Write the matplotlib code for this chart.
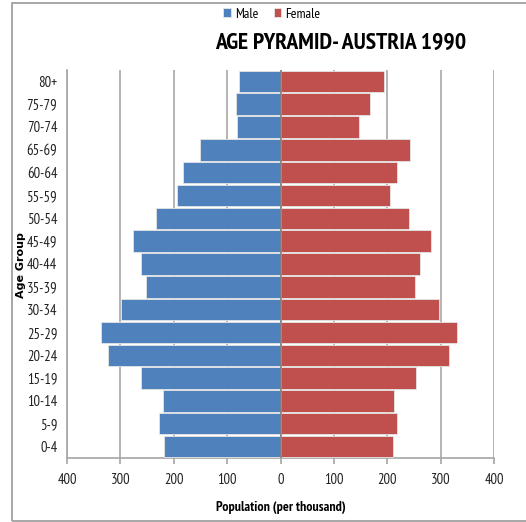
import matplotlib.pyplot as plt
from matplotlib.patches import Rectangle
from matplotlib.ticker import FuncFormatter

# Age groups, bottom to top
age_groups = ["0-4", "5-9", "10-14", "15-19", "20-24", "25-29", "30-34", "35-39",
              "40-44", "45-49", "50-54", "55-59", "60-64", "65-69", "70-74", "75-79", "80+"]

# Population in thousands
male = [219, 228, 220, 261, 324, 336, 298, 252, 261, 276, 233, 194, 183, 150, 81, 84, 78]
female = [211, 219, 212, 253, 315, 330, 297, 252, 261, 281, 241, 205, 219, 243, 146, 167, 194]

x_ticks = [-400, -300, -200, -100, 0, 100, 200, 300, 400]

BLUE = "#4F81BD"
RED = "#C0504D"
GRID = "#b4b4b4"

plt.rcParams["font.family"] = ["PT Sans Narrow", "DejaVu Sans"]

fig = plt.figure(figsize=(5.26, 5.22), dpi=100)
ax = fig.add_axes([0.1274, 0.1226, 0.812, 0.7435])

pos = list(range(len(age_groups)))
ax.barh(pos, [-v for v in male], height=0.94, color=BLUE, edgecolor="#e6e6e6",
        linewidth=0.6, label="Male", zorder=3)
ax.barh(pos, female, height=0.94, color=RED, edgecolor="#e6e6e6",
        linewidth=0.6, label="Female", zorder=3)

ax.set_xlim(-400, 400)
ax.set_ylim(-0.5, len(age_groups) - 0.5)
ax.set_xticks(x_ticks)
ax.xaxis.set_major_formatter(FuncFormatter(lambda v, p: f"{abs(int(v))}"))
ax.set_yticks(pos)
ax.set_yticklabels(age_groups)

ax.xaxis.grid(True, color=GRID, linewidth=1.4, zorder=0)
ax.axvline(0, color="#808080", linewidth=1.2, zorder=4)

for side in ["top", "right"]:
    ax.spines[side].set_visible(False)
for side in ["left", "bottom"]:
    ax.spines[side].set_color("#a6a6a6")
    ax.spines[side].set_linewidth(1.2)

ax.tick_params(axis="x", direction="out", length=4, width=1.2, color="#a6a6a6",
               labelsize=10.5, pad=7, labelcolor="#222222")
ax.tick_params(axis="y", length=0, labelsize=10.5, pad=7, labelcolor="#222222")

ax.set_xlabel("Population (per thousand)", fontsize=10, fontweight="bold", labelpad=10)
fig.text(0.04, 0.492, "Age Group", rotation=90, ha="center", va="center",
         fontsize=8, fontweight="bold", family=["DejaVu Sans"])

fig.text(0.647, 0.917, "AGE PYRAMID- AUSTRIA 1990", ha="center", va="center",
         fontsize=17, fontweight="bold", color="black")

fig.legend(loc="center", bbox_to_anchor=(0.517, 0.973), ncol=2, frameon=False,
           fontsize=10, handlelength=0.55, handleheight=0.55, handletextpad=0.3,
           columnspacing=1.1)

# chart frame
fig.patches.append(Rectangle((0.022, 0.0015), 1.2, 0.9922, transform=fig.transFigure,
                             fill=False, edgecolor="#a0a0a0", linewidth=1.3))

fig.savefig("out.png", dpi=100)
